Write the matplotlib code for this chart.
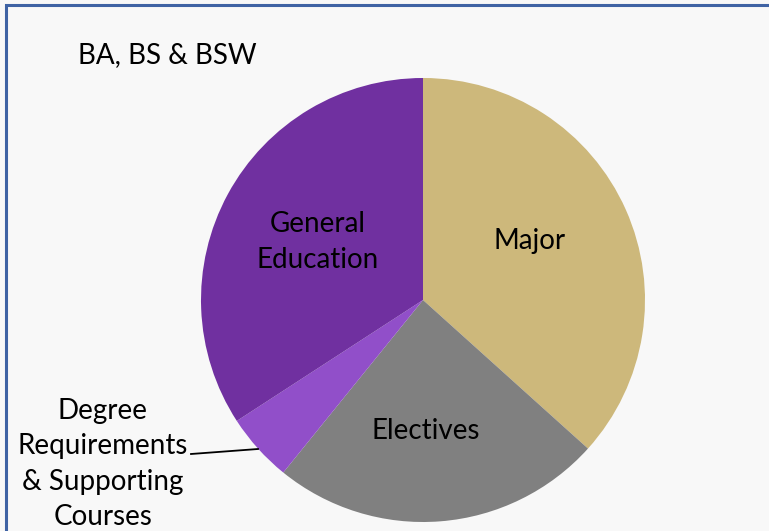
import matplotlib.pyplot as plt
from matplotlib.patches import Rectangle

# credit hours per component
categories = ['Major', 'Electives', 'Degree Requirements & Supporting Courses', 'General Education']
values = [44, 29, 6, 41]
colors = ['#CDB87B', '#808080', '#914FC9', '#7030A0']
title = 'BA, BS & BSW'

plt.rcParams['font.family'] = ['Lato', 'DejaVu Sans']

W, H = 769, 531
fig = plt.figure(figsize=(W / 100, H / 100), dpi=100)
fig.patch.set_facecolor('#F8F8F8')
ax = fig.add_axes([0, 0, 1, 1])

cx, cy, r = 423, 300, 222
# y axis is inverted, so counterclock=True draws clockwise on screen
wedges, _ = ax.pie(values, colors=colors, startangle=-90, counterclock=True,
                   center=(cx, cy), radius=r, frame=True,
                   wedgeprops=dict(linewidth=0))
ax.set_xlim(0, W)
ax.set_ylim(H, 0)
ax.set_aspect('equal')
ax.axis('off')

fs = 20
ax.text(530, 241, 'Major', fontsize=fs, ha='center', va='center')
ax.text(426, 431, 'Electives', fontsize=fs, ha='center', va='center')
ax.text(318, 242, 'General\nEducation', fontsize=fs, ha='center', va='center', linespacing=1.45)
ax.text(103, 464, 'Degree\nRequirements\n& Supporting\nCourses', fontsize=fs,
        ha='center', va='center', linespacing=1.45)
ax.plot([191, 258], [454, 449], color='black', linewidth=1.3)

ax.text(78, 55, title, fontsize=fs, ha='left', va='center')

fig.patches.append(Rectangle((6 / W, -0.2), 1.2, (H - 5) / H + 0.2, transform=fig.transFigure,
                             fill=False, edgecolor='#3F63A4', linewidth=2.2))

plt.savefig('out.png', dpi=100, facecolor=fig.get_facecolor())
